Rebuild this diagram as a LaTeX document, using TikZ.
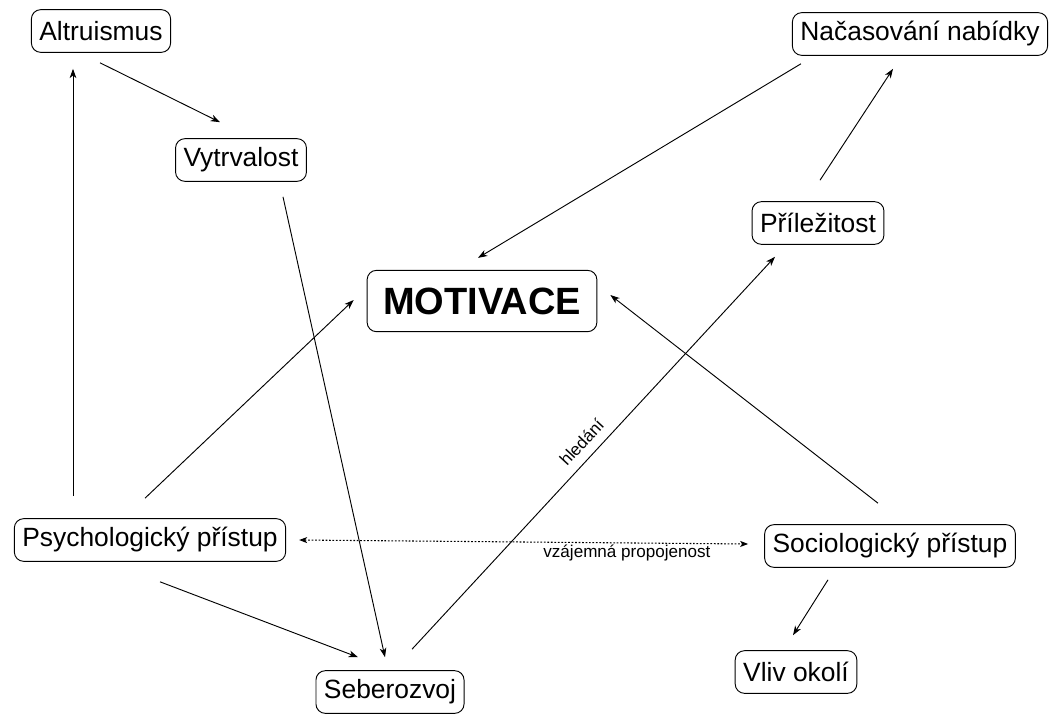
\documentclass[tikz,border=0pt]{standalone}
\usepackage{fontspec}
\setmainfont{Liberation Sans}
\usetikzlibrary{calc,arrows.meta}

\begin{document}
\begin{tikzpicture}[x=0.75pt,y=-0.75pt,
    box/.style={draw, rounded corners=7pt, line width=0.7pt, inner xsep=6pt, inner ysep=0pt,
      minimum height=32pt, font=\fontsize{19.8}{23}\selectfont},
    arr/.style={line width=0.7pt, -{Stealth[length=7pt,width=5pt,inset=2pt]}},
    lab/.style={font=\fontsize{12.8}{15}\selectfont}]

    \useasboundingbox (0,0) rectangle (1055,714);

    \node[box] (alt) at (101,31) {Altruismus};
    \node[box] (vyt) at (241,160) {Vytrvalost};
    \node[box] (nac) at (920,34) {Načasování nabídky};
    \node[box] (pril) at (818,223) {Příležitost};
    \node[box, font=\fontsize{28.5}{32}\selectfont\bfseries, inner xsep=12pt, minimum height=46pt] (mot) at (482,301) {MOTIVACE};
    \node[box] (psych) at (150,540) {Psychologický přístup};
    \node[box] (soc) at (890,546) {Sociologický přístup};
    \node[box] (seb) at (390,692) {Seberozvoj};
    \node[box] (vliv) at (796,672) {Vliv okolí};

    \draw [arr] ($(alt.south)+(-1,10)$) to ($(vyt.north)+(-21,-16)$);
    \draw [arr] ($(psych.north)+(-77,-22)$) to ($(alt.south)+(-28,16)$);
    \draw [arr] ($(vyt.south)+(42,15)$) to ($(seb.north)+(-5,-13)$);
    \draw [arr] ($(psych.north)+(-5,-20)$) to ($(mot.west)+(-13,-1)$);
    \draw [arr] ($(psych.south)+(10,20)$) to ($(seb.north)+(-32,-13)$);
    \draw [arr] ($(seb.north)+(22,-21)$) to node[lab, sloped, above, pos=0.5, inner sep=7pt] {hledání} ($(pril.south)+(-43,12)$);
    \draw [arr] ($(pril.north)+(2,-21)$) to ($(nac.south)+(-27,13)$);
    \draw [arr] ($(nac.south west)+(9,8)$) to ($(mot.north)+(-4,-12)$);
    \draw [arr] ($(soc.north)+(-12,-21)$) to ($(mot.east)+(13,-6)$);
    \draw [arr] ($(soc.south)+(-62,12)$) to ($(vliv.north)+(-3,-15)$);
    \draw [arr, dash pattern=on 1.3pt off 1.3pt, line width=0.8pt,
      {Stealth[length=6pt,width=4.5pt,inset=1.5pt]}-{Stealth[length=6pt,width=4.5pt,inset=1.5pt]}]
      ($(psych.east)+(13,0)$) to node[lab, below, pos=0.73, inner sep=1pt] {vzájemná propojenost} ($(soc.west)+(-16,-2)$);

\end{tikzpicture}
\end{document}
